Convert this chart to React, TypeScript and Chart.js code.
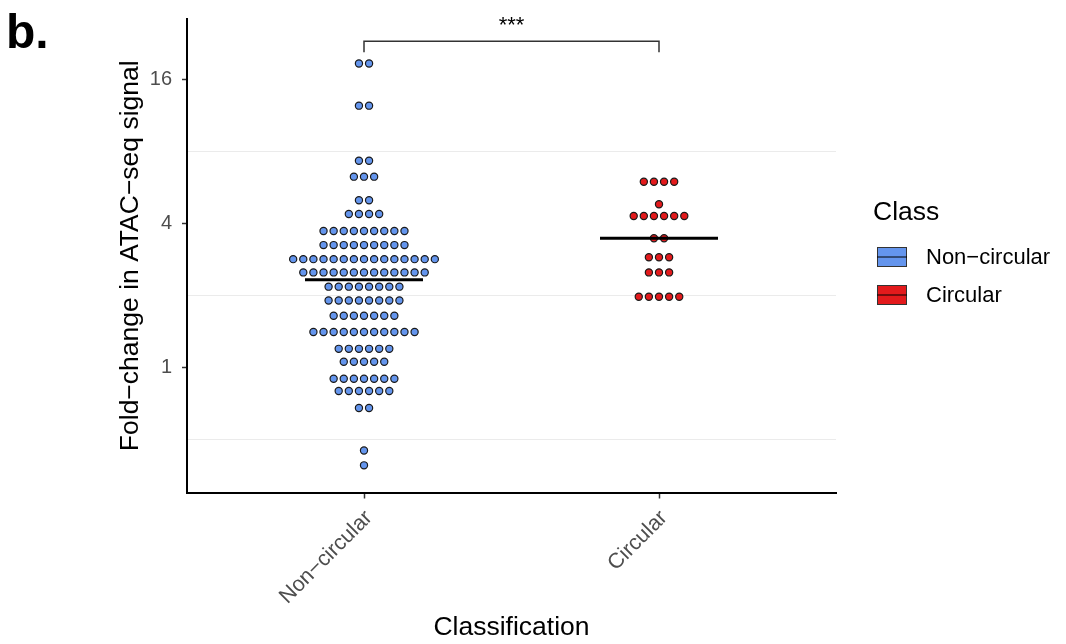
import React, { useEffect, useRef } from 'react';
import { Chart, registerables } from 'chart.js';

Chart.register(...registerables);

// ---- data ----
const categories = ['Non\u2212circular', 'Circular'];
const categoryPositions = [1, 2];

// dot rows (binned fold-change value) and how many dots sit in each row
const nonCircularLevels = [18.6, 12.4, 7.31, 6.27, 5.0, 4.38, 3.72, 3.25, 2.84, 2.5, 2.18, 1.91, 1.65, 1.41, 1.2, 1.06, 0.9, 0.8, 0.68, 0.452, 0.392];
const nonCircularCounts = [2, 2, 2, 3, 2, 4, 9, 9, 15, 13, 8, 8, 7, 11, 6, 5, 7, 6, 2, 1, 1];
const circularLevels = [5.97, 4.81, 4.3, 3.47, 2.89, 2.5, 1.98];
const circularCounts = [4, 1, 6, 2, 3, 3, 5];

const medians = [2.33, 3.47];

const yTickValues = [0.5, 1, 2, 4, 8, 16];
const yLabelValues = [1, 4, 16];
const yGridValues = [0.5, 2, 8];
const yMin = 0.302;
const yMax = 28.5;

const significanceLabel = '***';
const bracketTopValue = 23.0;
const bracketFootValue = 20.7;
const starsValue = 28.2;

const legendTitle = 'Class';
const legendLabels = ['Non\u2212circular', 'Circular'];

// ---- styles / layout ----
const FONT = "'Liberation Sans', Arial, Helvetica, sans-serif";
const COLORS = ['#6495ED', '#E31A1C'];
const DOT_STEP = 0.0343; // horizontal spacing of stacked dots (x units)
const MEDIAN_HALF = 0.2;

function stackDots(levels: number[], counts: number[], center: number) {
  const pts: { x: number; y: number }[] = [];
  levels.forEach((v, k) => {
    const n = counts[k];
    for (let i = 0; i < n; i++) {
      pts.push({ x: center + (i - (n - 1) / 2) * DOT_STEP, y: v });
    }
  });
  return pts;
}

const extrasPlugin = {
  id: 'extras',
  afterDraw(chart: any) {
    const { ctx } = chart;
    const xs = chart.scales.x;
    const ys = chart.scales.y;
    ctx.save();

    // significance bracket
    const x1 = xs.getPixelForValue(categoryPositions[0]);
    const x2 = xs.getPixelForValue(categoryPositions[1]);
    const yt = ys.getPixelForValue(bracketTopValue);
    const yf = ys.getPixelForValue(bracketFootValue);
    ctx.strokeStyle = '#333333';
    ctx.lineWidth = 1.5;
    ctx.beginPath();
    ctx.moveTo(x1, yf);
    ctx.lineTo(x1, yt);
    ctx.lineTo(x2, yt);
    ctx.lineTo(x2, yf);
    ctx.stroke();

    ctx.fillStyle = '#000000';
    ctx.font = `22px ${FONT}`;
    ctx.textAlign = 'center';
    ctx.textBaseline = 'alphabetic';
    ctx.fillText(significanceLabel, (x1 + x2) / 2, ys.getPixelForValue(starsValue) + 12);

    // panel label
    ctx.textAlign = 'left';
    ctx.font = `bold 48px ${FONT}`;
    ctx.fillText('b.', 6, 48);

    // legend
    ctx.font = `26.5px ${FONT}`;
    ctx.textBaseline = 'middle';
    ctx.fillText(legendTitle, 873, 213);
    const boxY = [247, 285];
    legendLabels.forEach((lab, i) => {
      const by = boxY[i];
      ctx.fillStyle = COLORS[i];
      ctx.fillRect(877, by, 30, 20);
      ctx.strokeStyle = '#333333';
      ctx.lineWidth = 1;
      ctx.strokeRect(877.5, by + 0.5, 29, 19);
      ctx.strokeStyle = '#000000';
      ctx.beginPath();
      ctx.moveTo(877, by + 10);
      ctx.lineTo(907, by + 10);
      ctx.stroke();
      ctx.fillStyle = '#000000';
      ctx.font = `22px ${FONT}`;
      ctx.fillText(lab, 926, by + 11);
    });
    ctx.restore();
  },
};

export default function App() {
  const canvasRef = useRef<HTMLCanvasElement | null>(null);

  useEffect(() => {
    if (!canvasRef.current) return;
    Chart.defaults.font.family = FONT;

    const medianSets = medians.map((m, i) => ({
      label: 'median ' + categories[i],
      data: [
        { x: categoryPositions[i] - MEDIAN_HALF, y: m },
        { x: categoryPositions[i] + MEDIAN_HALF, y: m },
      ],
      showLine: true,
      borderColor: '#000000',
      borderWidth: 3,
      pointRadius: 0,
      order: 0,
    }));

    const dotSets = [
      { levels: nonCircularLevels, counts: nonCircularCounts },
      { levels: circularLevels, counts: circularCounts },
    ].map((s, i) => ({
      label: categories[i],
      data: stackDots(s.levels, s.counts, categoryPositions[i]),
      backgroundColor: COLORS[i],
      borderColor: '#1a1a1a',
      borderWidth: 1.2,
      pointRadius: 3.6,
      showLine: false,
      order: 1,
    }));

    const chart = new Chart(canvasRef.current, {
      type: 'scatter',
      data: { datasets: [...medianSets, ...dotSets] as any },
      options: {
        animation: false,
        responsive: false,
        devicePixelRatio: 1,
        layout: { padding: { left: 0, right: 230, top: 19, bottom: 0 } },
        plugins: { legend: { display: false }, tooltip: { enabled: false } },
        scales: {
          x: {
            type: 'linear',
            min: 0.4,
            max: 2.6,
            bounds: 'data',
            afterBuildTicks: (s: any) => {
              s.ticks = categoryPositions.map((v) => ({ value: v }));
            },
            afterFit: (s: any) => {
              s.height = 151.5;
            },
            grid: {
              drawOnChartArea: false,
              drawTicks: true,
              tickLength: 6,
              tickColor: '#333333',
              tickWidth: 1.5,
            },
            border: { display: true, color: '#000000', width: 2 },
            ticks: {
              autoSkip: false,
              minRotation: 45,
              maxRotation: 45,
              font: { size: 21.5 },
              color: '#4d4d4d',
              padding: 7,
              labelOffset: 5,
              callback: (v: any) => {
                const idx = categoryPositions.indexOf(Number(v));
                return idx >= 0 ? categories[idx] : '';
              },
            },
            title: {
              display: true,
              text: 'Classification',
              font: { size: 26.5 },
              color: '#000000',
              padding: { top: 0, bottom: 0 },
            },
          },
          y: {
            type: 'logarithmic',
            min: yMin,
            max: yMax,
            bounds: 'data',
            afterBuildTicks: (s: any) => {
              s.ticks = yTickValues.map((v) => ({ value: v }));
            },
            afterFit: (s: any) => {
              s.width = 187;
            },
            grid: {
              color: (c: any) => (c.tick && yGridValues.includes(c.tick.value) ? '#ebebeb' : 'rgba(0,0,0,0)'),
              lineWidth: 1,
              tickColor: (c: any) => (c.tick && yLabelValues.includes(c.tick.value) ? '#333333' : 'rgba(0,0,0,0)'),
              tickLength: 5,
              tickWidth: 1.5,
            },
            border: { display: true, color: '#000000', width: 2 },
            ticks: {
              autoSkip: false,
              font: { size: 20, lineHeight: 0.8 },
              color: '#4d4d4d',
              padding: 10,
              callback: (v: any) => (yLabelValues.includes(Number(v)) ? String(v) : ''),
            },
            title: {
              display: true,
              text: 'Fold\u2212change in ATAC\u2212seq signal',
              font: { size: 26.5 },
              color: '#000000',
              padding: { top: 115, bottom: 0 },
            },
          },
        },
      } as any,
      plugins: [extrasPlugin],
    });

    return () => chart.destroy();
  }, []);

  return (
    <div style={{ position: 'fixed', left: 0, top: 0, width: 1066, height: 644, background: '#ffffff' }}>
      <canvas ref={canvasRef} width={1066} height={644} />
    </div>
  );
}
